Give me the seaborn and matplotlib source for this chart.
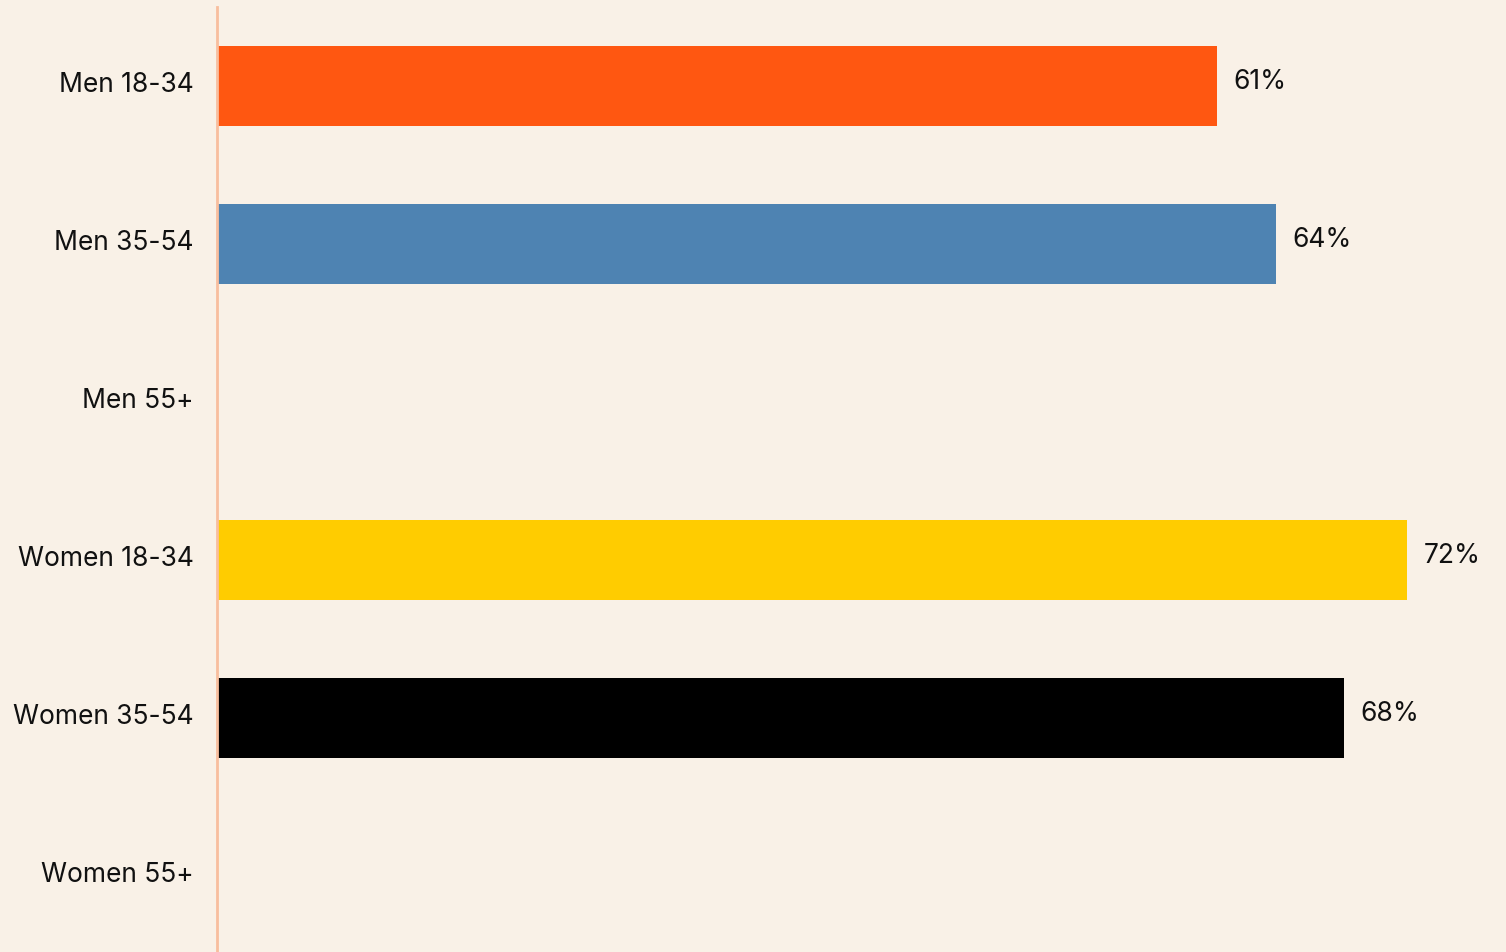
import matplotlib
matplotlib.use("Agg")
import matplotlib.pyplot as plt
import matplotlib.transforms as mtransforms
import seaborn as sns
import pandas as pd

# data
groups = ["Men 18-34", "Men 35-54", "Men 55+", "Women 18-34", "Women 35-54", "Women 55+"]
shares = [60.5, 64.1, None, 72.0, 68.2, None]
value_labels = ["61%", "64%", "", "72%", "68%", ""]
colors = ["#FF5711", "#4E83B2", "#999999", "#FFCC00", "#000000", "#999999"]

bg = "#F9F1E7"

df = pd.DataFrame({"group": groups, "share": shares})

sns.set_style("white")
plt.rcParams["font.family"] = ["Inter", "DejaVu Sans"]

fig = plt.figure(figsize=(15.06, 9.52), dpi=100, facecolor=bg)
ax = fig.add_axes([217 / 1506, -3 / 952, (1506 - 217) / 1506, 948 / 952])
ax.set_facecolor(bg)

sns.barplot(data=df, x="share", y="group", hue="group", palette=colors,
            order=groups, legend=False, width=0.505, saturation=1,
            linewidth=0, ax=ax)

# nudge text up a little, like the original
up = mtransforms.ScaledTranslation(0, 4 / 100, fig.dpi_scale_trans)

# value labels
for i, (v, lab) in enumerate(zip(shares, value_labels)):
    if lab:
        ax.text(v + 1.0, i, lab, va="center", ha="left",
                fontsize=19, color="#111111", transform=ax.transData + up)

ax.set_xlim(0, 78)
ax.set_ylim(5.5, -0.5)
ax.set_xlabel("")
ax.set_ylabel("")
ax.set_xticks([])
ax.tick_params(axis="y", length=0, pad=17, labelsize=19, labelcolor="#111111")
for t in ax.get_yticklabels():
    t.set_transform(t.get_transform() + up)

for s in ["top", "right", "bottom"]:
    ax.spines[s].set_visible(False)
ax.spines["left"].set_color("#F8BE9E")
ax.spines["left"].set_linewidth(2)

fig.savefig("out.png", dpi=100, facecolor=bg)
